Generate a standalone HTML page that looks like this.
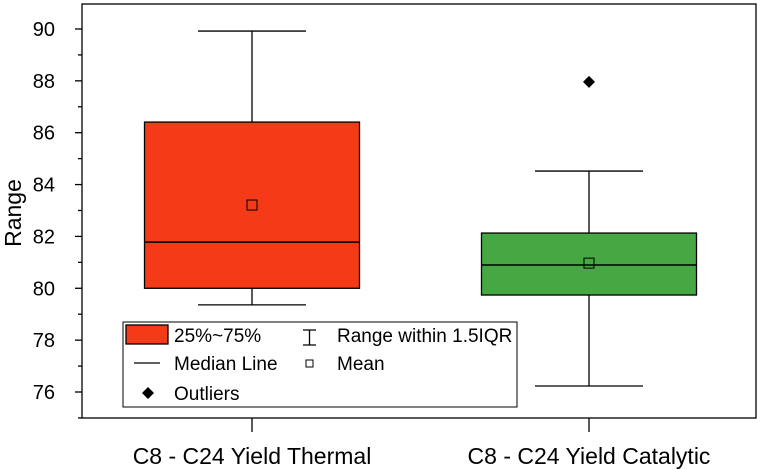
<!DOCTYPE html>
<html><head><meta charset="utf-8"><style>body{margin:0;background:#fff}svg{display:block;font-family:"Liberation Sans",Arial,sans-serif}</style></head>
<body>
<svg id="chart" width="762" height="470" viewBox="0 0 762 470"></svg>
<script>
const categories=["C8 - C24 Yield Thermal","C8 - C24 Yield Catalytic"];
const q1=[80.0,79.74];
const q3=[86.41,82.13];
const medians=[81.78,80.90];
const means=[83.21,80.97];
const whiskLo=[79.36,76.23];
const whiskHi=[89.92,84.52];
const outliers=[[],[87.96]];
const fills=["#f53a17","#45a843"];
const yTicks=[76,78,80,82,84,86,88,90];
const yMinor=[75,77,79,81,83,85,87,89];
const NS="http://www.w3.org/2000/svg";
const svg=document.getElementById('chart');
const L=82,R=756,T=4,B=418;
const y=v=>392-(v-76)*25.93;
const x=i=>[252,589][i];
const BW=215;
function mk(t,a,p){const e=document.createElementNS(NS,t);for(const k in a)e.setAttribute(k,a[k]);(p||svg).appendChild(e);return e;}
const frame=mk('rect',{x:L,y:T,width:R-L,height:B-T,fill:'none',stroke:'#000','stroke-width':1.3});


yMinor.forEach(v=>{
 if(y(v)>B)return;
 const t=mk('line',{x1:L-4,x2:L,y1:y(v),y2:y(v),stroke:'#000','stroke-width':1.3});
 
 
});
yTicks.forEach(v=>{
 const t=mk('line',{x1:L-7,x2:L,y1:y(v),y2:y(v),stroke:'#000','stroke-width':1.3});
 
 
 const tx=mk('text',{x:55,y:y(v)+7,'text-anchor':'end','font-size':20,fill:'#000'});
 tx.textContent=v;
 
 
});
const yt=mk('text',{x:21,y:213,'text-anchor':'middle','font-size':23,transform:'rotate(-90 21 213)'});
yt.textContent='Range';


categories.forEach((c,i)=>{
 const cx=x(i);
 const g=mk('g',{});
 
 
 mk('line',{x1:cx,x2:cx,y1:y(whiskHi[i]),y2:y(q3[i]),stroke:'#000','stroke-width':1.3},g);
 mk('line',{x1:cx,x2:cx,y1:y(q1[i]),y2:y(whiskLo[i]),stroke:'#000','stroke-width':1.3},g);
 mk('line',{x1:cx-54,x2:cx+54,y1:y(whiskHi[i]),y2:y(whiskHi[i]),stroke:'#000','stroke-width':1.3},g);
 mk('line',{x1:cx-54,x2:cx+54,y1:y(whiskLo[i]),y2:y(whiskLo[i]),stroke:'#000','stroke-width':1.3},g);
 mk('rect',{x:cx-BW/2,y:y(q3[i]),width:BW,height:y(q1[i])-y(q3[i]),fill:fills[i],stroke:'#000','stroke-width':1.3},g);
 mk('line',{x1:cx-BW/2,x2:cx+BW/2,y1:y(medians[i]),y2:y(medians[i]),stroke:'#000','stroke-width':1.5},g);
 mk('rect',{x:cx-5,y:y(means[i])-5,width:10,height:10,fill:'none',stroke:'#000','stroke-width':1},g);
 outliers[i].forEach(o=>{const d=mk('path',{d:`M${cx} ${y(o)-6}L${cx+6} ${y(o)}L${cx} ${y(o)+6}L${cx-6} ${y(o)}Z`,fill:'#000'},g);
  
  });
 const t=mk('line',{x1:cx,x2:cx,y1:B,y2:B+14,stroke:'#000','stroke-width':1.3});
 
 
 const tx=mk('text',{x:cx,y:464,'text-anchor':'middle','font-size':23});
 tx.textContent=c;
 
 
});
</script>
<svg style="position:absolute;left:0;top:0" width="762" height="470">
<g font-family="Liberation Sans, Arial, sans-serif" font-size="19">
<rect x="123" y="322" width="394" height="85" fill="#fff" stroke="#000" stroke-width="1"/>
<rect x="126" y="325" width="42" height="19" fill="#f53a17" stroke="#000" stroke-width="1.3"/>
<text x="174" y="342">25%~75%</text>
<path d="M303 330h13M309.5 330v15M303 345h13" stroke="#000" stroke-width="1.3" fill="none"/>
<text x="337" y="342">Range within 1.5IQR</text>
<line x1="134" x2="160" y1="363" y2="363" stroke="#000" stroke-width="1.3"/>
<text x="174" y="370">Median Line</text>
<rect x="306" y="360" width="7" height="7" fill="none" stroke="#000"/>
<text x="337" y="370">Mean</text>
<path d="M148 387l6 6l-6 6l-6-6Z" fill="#000"/>
<text x="174" y="400">Outliers</text>
</g></svg>
</body></html>
